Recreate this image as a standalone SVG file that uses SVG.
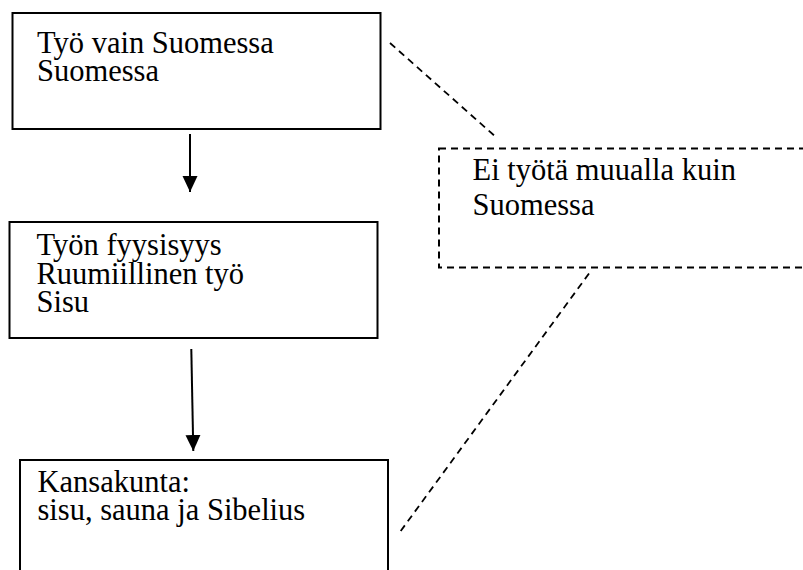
<svg xmlns="http://www.w3.org/2000/svg" width="803" height="570" viewBox="0 0 803 570">
<style>
.box{fill:#fff;stroke:#000;stroke-width:2}
.dbox{fill:none;stroke:#000;stroke-width:2;stroke-dasharray:7 5}
.t{font-family:"Liberation Serif","Times New Roman",serif;font-size:30.5px;fill:#000}
.arr{stroke:#000;stroke-width:2;fill:none}
.dl{stroke:#000;stroke-width:1.8;stroke-dasharray:7 5;fill:none}
</style>
<defs>
<marker id="ah" markerUnits="userSpaceOnUse" markerWidth="16" markerHeight="16" refX="16" refY="7.5" orient="auto" viewBox="0 0 16 15">
<path d="M0,0 L16,7.5 L0,15 z" fill="#000"/>
</marker>
</defs>
<rect width="803" height="570" fill="#fff"/>
<g id="n1">
<rect class="box" x="12.5" y="13" width="368" height="116"/>
<text class="t" x="37" y="53">Työ vain Suomessa</text>
<text class="t" x="37" y="81">Suomessa</text>
</g>
<g id="n2">
<rect class="box" x="9.5" y="222" width="368" height="116"/>
<text class="t" x="36.5" y="255">Työn fyysisyys</text>
<text class="t" x="36.5" y="283.5">Ruumiillinen työ</text>
<text class="t" x="36.5" y="311.5">Sisu</text>
</g>
<g id="n3">
<rect class="box" x="20" y="460" width="368" height="130"/>
<text class="t" x="37.5" y="491.5">Kansakunta:</text>
<text class="t" x="37.5" y="520">sisu, sauna ja Sibelius</text>
</g>
<g id="n4">
<rect class="dbox" x="439" y="148.5" width="380" height="119"/>
<text class="t" x="472.5" y="179.5">Ei työtä muualla kuin</text>
<text class="t" x="472.5" y="215">Suomessa</text>
</g>
<g id="connectors">
<line class="arr" x1="190" y1="134" x2="190" y2="192" marker-end="url(#ah)"/>
<line class="arr" x1="191.3" y1="349" x2="193.3" y2="451" marker-end="url(#ah)"/>
<line class="dl" x1="390" y1="43" x2="497" y2="138"/>
<line class="dl" x1="589" y1="273.5" x2="398.5" y2="534"/>
</g>
</svg>
